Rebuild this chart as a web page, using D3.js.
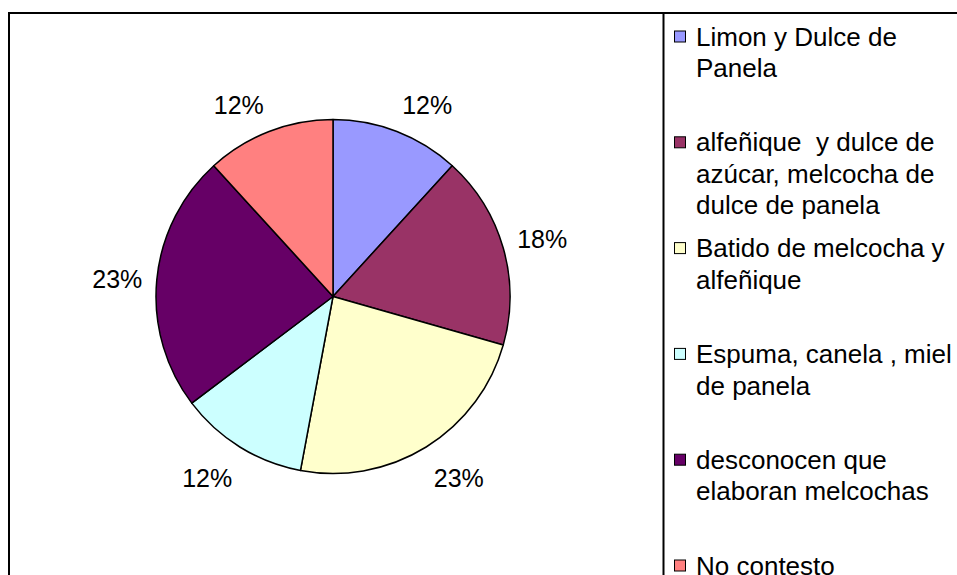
<!DOCTYPE html>
<html>
<head>
<meta charset="utf-8">
<script src="https://cdn.jsdelivr.net/npm/d3@7"></script>
<style>
  body { margin: 0; background: #fff; }
  svg { display: block; font-family: "Liberation Sans", Arial, sans-serif; }
</style>
</head>
<body>
<svg id="chart"></svg>
<script>
// Data (17 answers)
const categories = [
  "Limon y Dulce de Panela",
  "alfeñique  y dulce de azúcar, melcocha de dulce de panela",
  "Batido de melcocha y alfeñique",
  "Espuma, canela , miel de panela",
  "desconocen que elaboran melcochas",
  "No contesto"
];
const counts = [2, 3, 4, 2, 4, 2];
const pctLabels = ["12%", "18%", "23%", "12%", "23%", "12%"];
const colors = ["#9999FF", "#993366", "#FFFFCC", "#CCFFFF", "#660066", "#FF8080"];

const W = 957, H = 575;
const svg = d3.select("#chart").attr("width", W).attr("height", H);

// chart frame and legend divider
svg.append("rect")
  .attr("x", 9).attr("y", 13)
  .attr("width", 1000).attr("height", 700)
  .attr("fill", "#fff").attr("stroke", "#000").attr("stroke-width", 2);
svg.append("line")
  .attr("x1", 663.5).attr("x2", 663.5)
  .attr("y1", 13).attr("y2", H + 10)
  .attr("stroke", "#000").attr("stroke-width", 2);

// pie
const cx = 333, cy = 296.5, r = 177;
const pie = d3.pie().sort(null).value(d => d)(counts);
const arc = d3.arc().innerRadius(0).outerRadius(r);

const g = svg.append("g").attr("transform", `translate(${cx},${cy})`);
g.selectAll("path")
  .data(pie)
  .join("path")
  .attr("d", arc)
  .attr("fill", (d, i) => colors[i])
  .attr("stroke", "#000")
  .attr("stroke-width", 1.5)
  .attr("stroke-linejoin", "round");

// percentage labels, outside end (box pushed away from the pie)
const pad = 14.5, halfH = 15.5, shiftY = 3.2;
const clamp = v => Math.max(-1, Math.min(1, v));
g.selectAll("text.pct")
  .data(pie)
  .join("text")
  .attr("class", "pct")
  .attr("text-anchor", "middle")
  .attr("dy", "0.35em")
  .style("font-size", "25px")
  .attr("fill", "#000")
  .text((d, i) => pctLabels[i])
  .each(function (d) {
    const a = (d.startAngle + d.endAngle) / 2;
    const s = Math.sin(a), c = -Math.cos(a);
    const halfW = this.getComputedTextLength() / 2;
    const x = (r + pad) * s + halfW * clamp(s * 3);
    const y = (r + pad) * c + halfH * clamp(c * 2) + shiftY;
    d3.select(this).attr("x", x).attr("y", y);
  });

// legend
const legX = 674, legY0 = 36.5, legStep = 105.8, lineH = 31.5, maxW = 262;
const leg = svg.append("g");
categories.forEach((name, i) => {
  const y = legY0 + i * legStep;
  leg.append("rect")
    .attr("x", legX + 0.5).attr("y", y - 5.5)
    .attr("width", 11).attr("height", 11)
    .attr("fill", colors[i])
    .attr("stroke", "#000").attr("stroke-width", 1);

  const text = leg.append("text")
    .attr("x", legX + 22).attr("y", y)
    .style("font-size", "26px")
    .style("white-space", "pre")
    .attr("fill", "#000");

  // greedy word wrap
  const words = name.split(" ");
  let line = [], lineNo = 0;
  let tspan = text.append("tspan").attr("x", legX + 22).attr("y", y).attr("dy", "0.35em");
  words.forEach(w => {
    line.push(w);
    tspan.text(line.join(" "));
    if (tspan.node().getComputedTextLength() > maxW && line.length > 1) {
      line.pop();
      tspan.text(line.join(" "));
      line = [w];
      lineNo++;
      tspan = text.append("tspan")
        .attr("x", legX + 22)
        .attr("y", y + lineNo * lineH)
        .attr("dy", "0.35em")
        .text(w);
    }
  });
});
</script>
</body>
</html>
